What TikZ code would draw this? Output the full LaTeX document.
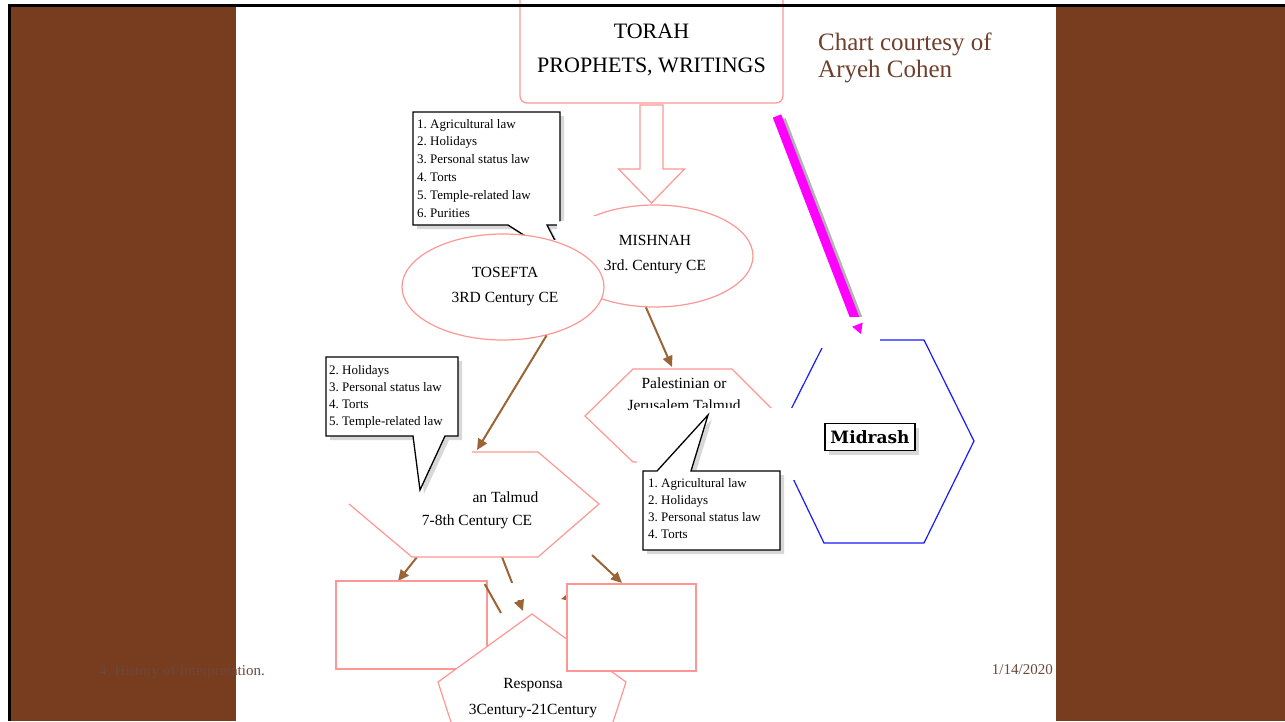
\documentclass[tikz,border=0pt]{standalone}
\usepackage{fontspec}
\setmainfont{Liberation Serif}
\newfontfamily\labelfont{DejaVu Serif}
\usetikzlibrary{shapes.geometric,arrows.meta,shadows,calc}

\definecolor{woodbrown}{RGB}{120,60,31}
\definecolor{shapepink}{RGB}{255,150,150}
\definecolor{arrowbrown}{RGB}{155,100,55}
\definecolor{creditbrown}{RGB}{112,64,44}
\definecolor{footgray}{RGB}{108,72,58}
\definecolor{midblue}{RGB}{25,25,255}
\definecolor{hotmagenta}{RGB}{255,0,255}

\tikzset{
  pinkline/.style={draw=shapepink, line width=1.2pt},
  ovalnode/.style={ellipse, pinkline, fill=white, inner sep=0pt},
  plainbox/.style={rectangle, pinkline, fill=white, inner sep=0pt},
  calloutbox/.style={draw=black, line width=1.3pt, fill=white,
    drop shadow={opacity=0.3, shadow xshift=4pt, shadow yshift=-4pt}},
  itemtext/.style={anchor=base west, inner sep=0pt, font=\fontsize{13}{16}\selectfont},
  linetext/.style={anchor=base, inner sep=0pt, font=\fontsize{15.5}{18}\selectfont},
  flowarrow/.style={draw=arrowbrown, line width=2pt, -{Triangle[length=11pt,width=10pt]}},
  patch/.style={fill=white, draw=none},
}

\begin{document}
\frenchspacing
\begin{tikzpicture}[x=1pt,y=-1pt]
\useasboundingbox (0,0) rectangle (1285,721);
% slide
\fill[white] (0,0) rectangle (1285,721);
\fill[woodbrown] (10,6) rectangle (236,721);
\fill[woodbrown] (1056,6) rectangle (1285,721);

% source text
\node[plainbox, rounded corners=7pt, minimum width=263, minimum height=110] (torah) at (651.5,48) {};
\node[linetext, font=\fontsize{22}{26}\selectfont] (torah1) at (651.5,38.5) {TORAH};
\node[linetext, font=\fontsize{22}{26}\selectfont] (torah2) at (651.5,72.5) {PROPHETS, WRITINGS};
\coordinate (hollowtop) at (651.5,105);
\coordinate (hollowtip) at (651.5,203);
\draw[pinkline, fill=white] ($(hollowtop)+(-11.5,0)$) -- ($(hollowtop)+(11.5,0)$)
  -- ($(hollowtip)+(11.5,-34)$) -- ($(hollowtip)+(33,-34)$) -- (hollowtip)
  -- ($(hollowtip)+(-33,-34)$) -- ($(hollowtip)+(-11.5,-34)$) -- cycle;

\node[anchor=base west, inner sep=0pt, text=creditbrown, font=\fontsize{25}{30}\selectfont] (credit1) at (818,50) {Chart courtesy of};
\node[anchor=base west, inner sep=0pt, text=creditbrown, font=\fontsize{25}{30}\selectfont] (credit2) at (818,77) {Aryeh Cohen};

% magenta arrow to midrash
\coordinate (magstart) at (777,116);
\coordinate (magend) at (861,334);
\draw[black, opacity=0.3, line width=10pt] ([shift={(4,4)}]magstart) -- ([shift={(4,4)}]magend);
\draw[hotmagenta, line width=9pt] (magstart) -- (magend);

% mishnah
\node[ovalnode, minimum width=196, minimum height=102] (mishnah) at (655,256) {};
\node[linetext] (mishnah1) at (655,245) {MISHNAH};
\node[linetext] (mishnah2) at (655,270) {3rd. Century CE};

\draw[calloutbox] (413,112) -- (560,112) -- (560,225) -- (547,225) -- (566,262) -- (508,225) -- (413,225) -- cycle;
\foreach \t [count=\i] in {1. Agricultural law, 2. Holidays, 3. Personal status law, 4. Torts, 5. Temple-related law, 6. Purities}
  \node[itemtext] (mish\i) at (417,128+17.8*\i-17.8) {\t};
\fill[patch] (520,240) -- (557,240) -- (557,222) -- (586,216) -- (607,216) -- (607,262) -- (520,262) -- cycle;

% tosefta
\node[ovalnode, minimum width=202, minimum height=106] (tosefta) at (503,287) {};
\node[linetext] (tosefta1) at (505,277) {TOSEFTA};
\node[linetext] (tosefta2) at (505,302) {3RD Century CE};

\coordinate (yeruin) at (672,367);
\coordinate (babliin) at (477,450);
\draw[flowarrow] (mishnah.260) -- (yeruin);
\draw[flowarrow] (tosefta.312) -- (babliin);

% palestinian talmud
\fill[white] (633,369) -- (732,369) -- (779,416) -- (732,462) -- (633,462) -- (585,416) -- cycle;
\draw[pinkline] (633,369) -- (732,369) -- (779,416) -- (732,462) -- (633,462) -- (585,416) -- cycle;
\node[linetext] (yeru1) at (684,388) {Palestinian or};
\node[linetext] (yeru2) at (684,410) {Jerusalem Talmud};

% midrash
\draw[midblue, line width=1.2pt] (826,340) -- (924,340) -- (974,441) -- (924,543) -- (824,543) -- (775,441) -- cycle;
\fill[patch] (637,408) rectangle (796,480);
\fill[patch] (820,317) rectangle (880,348);
\draw[hotmagenta, line width=1pt, -{Triangle[length=10pt,width=11pt]}] ($(magstart)!0.96!(magend)$) -- (magend);
\node[draw=black, line width=1.3pt, fill=white, minimum width=90, minimum height=27, inner sep=0pt,
  font=\labelfont\bfseries\fontsize{17}{20}\selectfont,
  drop shadow={opacity=0.3, shadow xshift=4pt, shadow yshift=-4pt}] (midrash) at (870,437) {Midrash};

\draw[calloutbox] (643,471) -- (657,471) -- (708,415) -- (691,471) -- (780,471) -- (780,550) -- (643,550) -- cycle;
\foreach \t [count=\i] in {1. Agricultural law, 2. Holidays, 3. Personal status law, 4. Torts}
  \node[itemtext] (yer\i) at (648,487+17.3*\i-17.3) {\t};

% babylonian talmud
\coordinate (babliso) at (417,557);
\coordinate (lboxin) at (398,581);
\coordinate (bablis) at (502,557);
\coordinate (responsain) at (523,611);
\coordinate (bablise) at (592,555);
\coordinate (rboxin) at (622,583);
\coordinate (lboxout) at (484.7,584);
\coordinate (responsatop) at (501,613);
\coordinate (rboxout) at (600,590);
\coordinate (responsaright) at (561,599);
\draw[flowarrow] (babliso) -- (lboxin);
\draw[flowarrow] (bablis) -- (responsain);
\draw[flowarrow] (bablise) -- (rboxin);
\draw[flowarrow] (rboxout) -- (responsaright);
\fill[patch] (505,583) rectangle (522,600);

\fill[white] (412,452) -- (538,452) -- (599,504) -- (538,557) -- (412,557) -- (349,504) -- cycle;
\draw[pinkline] (349,504) -- (412,557) -- (538,557) -- (599,504) -- (538,452) -- (472,452);
\node[linetext] (babli1) at (477,502) {\phantom{Babyloni}an Talmud};
\node[linetext] (babli2) at (477,525) {7-8th Century CE};

\draw[calloutbox] (326,357) -- (458,357) -- (458,436) -- (445,436) -- (420,490) -- (413,436) -- (326,436) -- cycle;
\foreach \t [count=\i] in {2. Holidays, 3. Personal status law, 4. Torts, 5. Temple-related law}
  \node[itemtext] (bav\i) at (329,374+17.3*\i-17.3) {\t};

% later works
\node[plainbox, minimum width=151, minimum height=88] (lbox) at (411.5,625) {};
\draw[draw=arrowbrown, line width=2pt] (lboxout) -- (responsatop);
\draw[pinkline, fill=white] (532,614) -- (626,682) -- (590,793) -- (474,793) -- (438,682) -- cycle;
\node[linetext] (responsa1) at (533,688) {Responsa};
\node[linetext] (responsa2) at (533,714) {3Century-21Century};
\node[plainbox, minimum width=129, minimum height=87] (rbox) at (631.5,627.5) {};

% footer
\node[anchor=base east, inner sep=0pt, text=footgray, font=\fontsize{15}{18}\selectfont] (foot) at (265,675) {4. History of Interpretation.};
\node[anchor=base east, inner sep=0pt, text=footgray, font=\fontsize{15}{18}\selectfont] (date) at (1053,674) {1/14/2020};

\draw[black, line width=2.5pt] (9.5,721) -- (9.5,5.5) -- (1285,5.5);
\end{tikzpicture}
\end{document}
